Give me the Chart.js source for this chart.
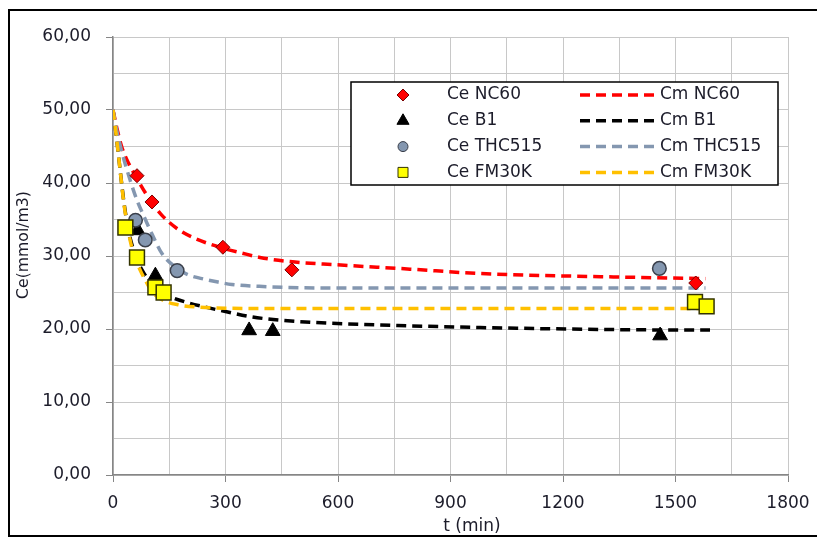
<!DOCTYPE html>
<html><head><meta charset="utf-8">
<style>html,body{margin:0;padding:0;background:#fff;overflow:hidden;} canvas{display:block;}</style>
<script src="https://cdn.jsdelivr.net/npm/chart.js@4.4.1/dist/chart.umd.min.js"></script>
</head><body>
<canvas id="c" width="817" height="538" style="width:817px;height:538px"></canvas>
<script>
// ---- measured points (Ce) ----
const ceNC60T = [64, 104, 293, 477, 1554];
const ceNC60Y = [41.0, 37.4, 31.2, 28.1, 26.3];
const ceB1T = [66, 113, 363, 426, 1459];
const ceB1Y = [33.5, 27.3, 19.8, 19.7, 19.1];
const ceTHC515T = [60, 86, 171, 1457];
const ceTHC515Y = [34.9, 32.2, 28.0, 28.3];
const ceFM30KT = [33, 64, 113, 135, 1552, 1583];
const ceFM30KY = [33.9, 29.8, 25.7, 25.0, 23.7, 23.1];

// ---- model curves (Cm) ----
const cmNC60T = [0, 10, 23, 36, 50, 64, 81, 104, 130, 175, 219, 291, 344, 392, 479, 596, 792, 979, 1370, 1580];
const cmNC60Y = [50, 47.6, 45.0, 43.3, 41.9, 40.6, 39.1, 37.3, 35.6, 33.6, 32.4, 31.1, 30.4, 29.8, 29.2, 28.8, 28.2, 27.6, 27.1, 26.9];
const cmB1T = [0, 5, 12, 20, 28, 36, 45, 65, 82, 108, 130, 153, 193, 246, 300, 365, 427, 534, 627, 979, 1379, 1592];
const cmB1Y = [50, 48.0, 45.0, 41.3, 37.8, 35.0, 32.6, 29.4, 27.7, 25.9, 25.0, 24.4, 23.7, 23.0, 22.4, 21.7, 21.3, 20.9, 20.7, 20.2, 19.9, 19.85];
const cmTHC515T = [0, 10, 25, 45, 65, 82, 104, 131, 171, 202, 237, 273, 317, 410, 499, 800, 1580];
const cmTHC515Y = [50, 47.2, 44.0, 40.5, 37.5, 35.5, 33.0, 30.3, 28.3, 27.4, 26.9, 26.5, 26.1, 25.8, 25.65, 25.6, 25.6];
const cmFM30KT = [0, 5, 12, 20, 28, 36, 45, 55, 73, 86, 104, 131, 175, 228, 300, 500, 1580];
const cmFM30KY = [50, 48.0, 45.0, 41.3, 37.6, 34.8, 32.3, 30.3, 28.0, 26.7, 25.1, 24.0, 23.3, 23.0, 22.85, 22.8, 22.8];

const xTicksMajor = [0, 300, 600, 900, 1200, 1500, 1800];
const yTicksMajor = [0, 10, 20, 30, 40, 50, 60];

const pts = (xs, ys) => xs.map((x, i) => ({x: x, y: ys[i]}));
const FONT = 'DejaVu Sans';
const TXT = '#1c1c2a';
const DASH = [10, 6];

function lineDS(label, xs, ys, color, order) {
  return {type: 'line', label, data: pts(xs, ys), borderColor: color, backgroundColor: color,
    borderWidth: 3.5, borderDash: DASH, borderCapStyle: 'butt', pointRadius: 0, pointHoverRadius: 0,
    fill: false, showLine: true, tension: 0.4, cubicInterpolationMode: 'monotone', order};
}

const datasets = [
  {label: 'Ce NC60', data: pts(ceNC60T, ceNC60Y), pointStyle: 'rectRot', pointRadius: 7,
   backgroundColor: '#FF0000', borderColor: '#7A0000', borderWidth: 1, showLine: false, order: 3},
  {label: 'Ce B1', data: pts(ceB1T, ceB1Y), pointStyle: 'triangle', pointRadius: 8.5,
   backgroundColor: '#000000', borderColor: '#000000', borderWidth: 1, showLine: false, order: 2},
  {label: 'Ce THC515', data: pts(ceTHC515T, ceTHC515Y), pointStyle: 'circle', pointRadius: 6.8,
   backgroundColor: '#8497B0', borderColor: '#3A3F4A', borderWidth: 1.5, showLine: false, order: 1},
  {label: 'Ce FM30K', data: pts(ceFM30KT, ceFM30KY), pointStyle: 'rect', pointRadius: 10.5,
   backgroundColor: '#FFFF00', borderColor: '#333300', borderWidth: 1.5, showLine: false, order: 0},
  lineDS('Cm NC60', cmNC60T, cmNC60Y, '#FF0000', 7),
  lineDS('Cm B1', cmB1T, cmB1Y, '#000000', 6),
  lineDS('Cm THC515', cmTHC515T, cmTHC515Y, '#8497B0', 5),
  lineDS('Cm FM30K', cmFM30KT, cmFM30KY, '#FFC000', 4),
];

function drawMarker(ctx, style, x, y, r, fill, stroke, lw) {
  ctx.save();
  ctx.beginPath();
  if (style === 'rectRot') {
    ctx.moveTo(x, y - r); ctx.lineTo(x + r, y); ctx.lineTo(x, y + r); ctx.lineTo(x - r, y); ctx.closePath();
  } else if (style === 'triangle') {
    for (let k = 0; k < 3; k++) {
      const a = -Math.PI / 2 + k * 2 * Math.PI / 3;
      const px = x + Math.cos(a) * r, py = y + Math.sin(a) * r;
      if (k === 0) ctx.moveTo(px, py); else ctx.lineTo(px, py);
    }
    ctx.closePath();
  } else if (style === 'circle') {
    ctx.arc(x, y, r, 0, Math.PI * 2);
  } else {
    ctx.rect(x - r, y - r, 2 * r, 2 * r);
  }
  ctx.fillStyle = fill; ctx.fill();
  ctx.lineWidth = lw; ctx.strokeStyle = stroke; ctx.stroke();
  ctx.restore();
}

const decor = {
  id: 'decor',
  beforeDraw(chart) {
    const ctx = chart.ctx;
    ctx.save();
    ctx.fillStyle = '#fff';
    ctx.fillRect(0, 0, chart.width, chart.height);
    ctx.restore();
  },
  afterDraw(chart) {
    const ctx = chart.ctx;
    ctx.save();
    // outer frame
    ctx.strokeStyle = '#000'; ctx.lineWidth = 2;
    ctx.strokeRect(9, 10, 900, 526);
    // axis titles
    ctx.fillStyle = TXT;
    ctx.font = '15.7px "' + FONT + '"';
    ctx.textAlign = 'center'; ctx.textBaseline = 'alphabetic';
    ctx.save(); ctx.translate(28, 245); ctx.rotate(-Math.PI / 2);
    ctx.fillText('Ce(mmol/m3)', 0, 0); ctx.restore();
    ctx.font = '17px "' + FONT + '"';
    ctx.fillText('t (min)', 472, 531);
    // legend
    const bx = 351, by = 82, bw = 427, bh = 103;
    ctx.fillStyle = '#fff'; ctx.fillRect(bx, by, bw, bh);
    ctx.strokeStyle = '#000'; ctx.lineWidth = 1.5; ctx.strokeRect(bx, by, bw, bh);
    const ds = chart.data.datasets;
    const sizes = [6, 7, 5, 5];
    ctx.font = '17px "' + FONT + '"';
    ctx.textAlign = 'left'; ctx.textBaseline = 'middle';
    for (let i = 0; i < 4; i++) {
      const yy = 95 + i * 25.8;
      const m = ds[i];
      drawMarker(ctx, m.pointStyle, 403, yy, sizes[i], m.backgroundColor, m.borderColor, 1);
      ctx.fillStyle = TXT;
      ctx.fillText(m.label, 447, yy);
      const l = ds[i + 4];
      ctx.save();
      ctx.strokeStyle = l.borderColor; ctx.lineWidth = 3.5; ctx.lineCap = 'butt';
      ctx.setLineDash(DASH);
      ctx.beginPath(); ctx.moveTo(580, yy); ctx.lineTo(654, yy); ctx.stroke();
      ctx.restore();
      ctx.fillStyle = TXT;
      ctx.fillText(l.label, 660, yy);
    }
    ctx.restore();
  }
};

new Chart(document.getElementById('c'), {
  type: 'scatter',
  data: {datasets},
  options: {
    responsive: false, animation: false, devicePixelRatio: 1,
    layout: {padding: {top: 37, right: 29, left: 0, bottom: 0}},
    plugins: {legend: {display: false}, tooltip: {enabled: false}, title: {display: false}},
    scales: {
      x: {
        type: 'linear', min: 0, max: 1800,
        afterBuildTicks(s) { const t = []; for (let v = 0; v <= 1800; v += 150) t.push({value: v}); s.ticks = t; },
        ticks: {autoSkip: false, maxRotation: 0, padding: 11, color: TXT, font: {family: FONT, size: 17},
          callback: v => xTicksMajor.includes(v) ? String(v) : ''},
        grid: {color: '#C8C8C8', lineWidth: 1, tickLength: 7,
          tickColor: c => (c.tick && xTicksMajor.includes(c.tick.value)) ? '#868686' : 'rgba(0,0,0,0)'},
        border: {color: '#868686', width: 1.5},
        afterFit(s) { s.height = 63; s.paddingRight = 0; s.paddingLeft = 0; }
      },
      y: {
        type: 'linear', min: 0, max: 60,
        afterBuildTicks(s) { const t = []; for (let v = 0; v <= 60; v += 5) t.push({value: v}); s.ticks = t; },
        ticks: {autoSkip: false, padding: 15, color: TXT, font: {family: FONT, size: 17},
          callback: v => yTicksMajor.includes(v) ? v.toFixed(2).replace('.', ',') : ''},
        grid: {color: '#C8C8C8', lineWidth: 1, tickLength: 7,
          tickColor: c => (c.tick && yTicksMajor.includes(c.tick.value)) ? '#868686' : 'rgba(0,0,0,0)'},
        border: {color: '#868686', width: 1.5},
        afterFit(s) { s.width = 113; s.paddingTop = 0; s.paddingBottom = 0; }
      }
    }
  },
  plugins: [decor]
});
</script>
</body></html>
